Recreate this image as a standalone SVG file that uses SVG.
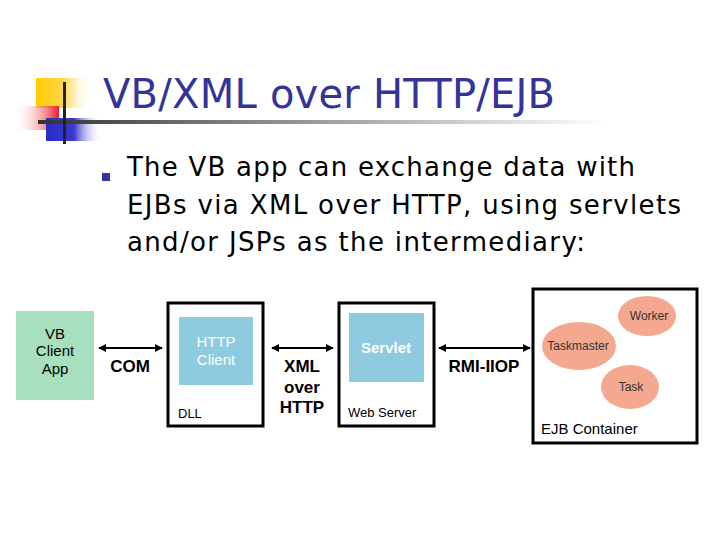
<svg xmlns="http://www.w3.org/2000/svg" width="720" height="540" viewBox="0 0 720 540">
<defs>
<linearGradient id="gy" x1="0" x2="1"><stop offset="0" stop-color="#ffcc00"/><stop offset="0.5" stop-color="#ffd84a"/><stop offset="1" stop-color="#fff" stop-opacity="0"/></linearGradient>
<linearGradient id="gr" x1="1" x2="0"><stop offset="0" stop-color="#ee1c24"/><stop offset="1" stop-color="#fff" stop-opacity="0"/></linearGradient>
<linearGradient id="gb" x1="0" x2="1"><stop offset="0" stop-color="#2b2bc8"/><stop offset="0.5" stop-color="#3a3ad0"/><stop offset="1" stop-color="#fff" stop-opacity="0"/></linearGradient>
<linearGradient id="gl" x1="0" x2="1"><stop offset="0" stop-color="#333"/><stop offset="0.3" stop-color="#777"/><stop offset="1" stop-color="#fff"/></linearGradient>
<marker id="ah" viewBox="0 0 10 10" refX="9" refY="5" markerWidth="4" markerHeight="4" orient="auto-start-reverse"><path d="M0,0L10,5L0,10z" fill="#000"/></marker>
<style>
.t{font-family:"DejaVu Sans",sans-serif}
.a{font-family:"Liberation Sans",Arial,sans-serif;text-anchor:middle}
.box{fill:#fff;stroke:#000;stroke-width:3}
.in{fill:#8ecae0}
.el{fill:#f4a890}
.c{stroke:#000;stroke-width:2;fill:none;marker-start:url(#ah);marker-end:url(#ah)}
</style>
</defs>
<rect width="720" height="540" fill="#fff"/>
<g id="logo">
<rect x="36" y="78" width="56" height="30" fill="url(#gy)"/>
<rect x="13" y="106" width="46" height="24" fill="url(#gr)"/>
<rect x="46" y="118" width="56" height="23" fill="url(#gb)"/>
<rect x="38" y="120" width="570" height="4" fill="url(#gl)"/>
<rect x="63" y="82" width="3" height="62" fill="#222"/>
</g>
<text class="t" x="103" y="108" font-size="40" fill="#333399" textLength="452">VB/XML over HTTP/EJB</text>
<rect x="102" y="173" width="8" height="8" fill="#333399"/>
<g class="t" font-size="26" fill="#000">
<text x="127" y="176" textLength="508">The VB app can exchange data with</text>
<text x="127" y="214" textLength="554">EJBs via XML over HTTP, using servlets</text>
<text x="127" y="251" textLength="458">and/or JSPs as the intermediary:</text>
</g>
<g id="vb"><rect x="16" y="311" width="78" height="89" fill="#a8e0bf"/>
<text class="a" font-size="15"><tspan x="55" y="339">VB</tspan><tspan x="55" y="356">Client</tspan><tspan x="55" y="374">App</tspan></text></g>
<g id="dll"><rect class="box" x="168" y="303" width="95" height="123"/>
<rect class="in" x="179" y="317" width="74" height="68"/>
<text class="a" font-size="15" fill="#fff"><tspan x="216" y="347">HTTP</tspan><tspan x="216" y="365">Client</tspan></text>
<text x="178" y="418" font-family="Liberation Sans,sans-serif" font-size="13">DLL</text></g>
<g id="web"><rect class="box" x="339" y="303" width="95" height="123"/>
<rect class="in" x="349" y="313" width="75" height="69"/>
<text class="a" font-size="15" fill="#fff" x="386" y="353" font-weight="bold">Servlet</text>
<text x="348" y="417" font-family="Liberation Sans,sans-serif" font-size="13">Web Server</text></g>
<g id="ejb"><rect class="box" x="533" y="289" width="164" height="154"/>
<ellipse class="el" cx="647" cy="316" rx="29" ry="20"/>
<ellipse class="el" cx="579" cy="346" rx="37" ry="24"/>
<ellipse class="el" cx="630" cy="387" rx="29" ry="22"/>
<g class="a" font-size="12" fill="#333"><text x="649" y="320">Worker</text><text x="578" y="350">Taskmaster</text><text x="631" y="391">Task</text></g>
<text x="541" y="434" font-family="Liberation Sans,sans-serif" font-size="15">EJB Container</text></g>
<g id="connectors">
<line class="c" x1="99" y1="348" x2="162" y2="348"/>
<line class="c" x1="272" y1="348" x2="333" y2="348"/>
<line class="c" x1="439" y1="348" x2="530" y2="348"/>
</g>
<g class="a" font-size="17" fill="#000" font-weight="bold">
<text x="130" y="372">COM</text>
<text><tspan x="302" y="372">XML</tspan><tspan x="302" y="393">over</tspan><tspan x="302" y="413">HTTP</tspan></text>
<text x="484" y="372">RMI-IIOP</text>
</g>
</svg>
